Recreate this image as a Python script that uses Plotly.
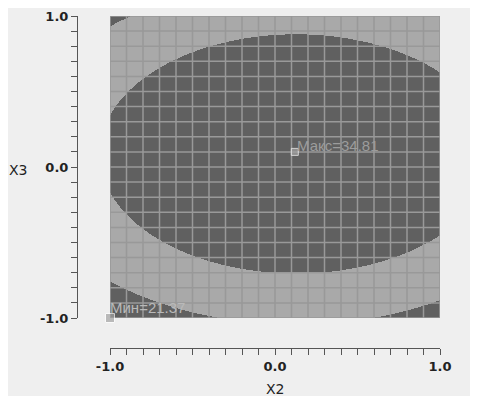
import numpy as np
import plotly.graph_objects as go

# Fitted response-surface model (coded units): Y = b0 + b2*X2 + b3*X3 + b22*X2^2 + b33*X3^2 + b23*X2*X3
coef_b0 = 34.72
coef_b2 = 0.85
coef_b3 = 1.39
coef_b22 = -3.41
coef_b33 = -7.71
coef_b23 = 0.0

contour_levels = [20, 25, 30, 35]          # band boundaries
band_colors = ["#606060", "#a9a9a9", "#606060"]

x2_range = [-1.0, 1.0]
x3_range = [-1.0, 1.0]
major_tick_vals = [-1.0, 0.0, 1.0]
major_tick_text = ["-1.0", "0.0", "1.0"]
grid_step = 0.1

extreme_labels = ["Макс=34.81", "Мин=21.37"]
extreme_x2 = [0.12, -1.0]
extreme_x3 = [0.10, -1.0]

# ---- surface grid evaluated from the model ----
gx = np.linspace(x2_range[0], x2_range[1], 331)
gy = np.linspace(x3_range[0], x3_range[1], 303)
X, Y = np.meshgrid(gx, gy)
Z = (coef_b0 + coef_b2 * X + coef_b3 * Y + coef_b22 * X**2
     + coef_b33 * Y**2 + coef_b23 * X * Y)

zmin, zmax = contour_levels[0], contour_levels[-1]
cs = []
for i, c in enumerate(band_colors):
    lo = (contour_levels[i] - zmin) / (zmax - zmin)
    hi = (contour_levels[i + 1] - zmin) / (zmax - zmin)
    cs.append([lo, c])
    cs.append([hi, c])

fig = go.Figure()
fig.add_trace(go.Heatmap(x=gx, y=gy, z=Z, zmin=zmin, zmax=zmax, colorscale=cs,
                         showscale=False, zsmooth=False, hoverinfo="skip"))

# grid lines drawn above the surface
n = int(round((x2_range[1] - x2_range[0]) / grid_step))
gvals = [x2_range[0] + grid_step * i for i in range(n + 1)]
lx, ly = [], []
for v in gvals:
    lx += [v, v, None]
    ly += [x3_range[0], x3_range[1], None]
    lx += [x2_range[0], x2_range[1], None]
    ly += [v, v, None]
fig.add_trace(go.Scatter(x=lx, y=ly, mode="lines", line=dict(color="#999999", width=1.5),
                         hoverinfo="skip", showlegend=False, cliponaxis=False))

# extreme markers on overlay axes
fig.add_trace(go.Scatter(x=extreme_x2, y=extreme_x3, xaxis="x2", yaxis="y2", mode="markers",
                         marker=dict(symbol="square", size=[7, 9], color="#a3a3a3"),
                         hoverinfo="skip", showlegend=False, cliponaxis=False))

dom_x = [33 / 363, 1.0]
dom_y = [30 / 332, 1.0]

axis_font = dict(family="DejaVu Sans", size=13, color="#222222", weight="bold")

fig.update_layout(
    width=470, height=388, autosize=False,
    margin=dict(l=69, r=38, t=8, b=48, autoexpand=False),
    paper_bgcolor="#efefef", plot_bgcolor="#a9a9a9",
    showlegend=False,
    xaxis=dict(domain=dom_x, range=x2_range, showgrid=False, zeroline=False,
               showticklabels=False, ticks="", showline=False, automargin=False),
    yaxis=dict(domain=dom_y, range=x3_range, showgrid=False, zeroline=False,
               showticklabels=False, ticks="", showline=False, automargin=False),
    xaxis2=dict(domain=dom_x, range=x2_range, overlaying="x", anchor="free", position=0,
                side="bottom", showgrid=False, zeroline=False, showline=True, automargin=False,
                linecolor="#555555", linewidth=1, ticks="outside", ticklen=6,
                tickcolor="#555555", tickvals=major_tick_vals, ticktext=major_tick_text,
                minor=dict(dtick=grid_step, tick0=-1, ticks="outside", ticklen=6,
                           tickcolor="#555555", showgrid=False),
                tickfont=axis_font),
    yaxis2=dict(domain=dom_y, range=x3_range, overlaying="y", anchor="free", position=0,
                side="left", showgrid=False, zeroline=False, showline=True, automargin=False,
                linecolor="#555555", linewidth=1, ticks="outside", ticklen=6,
                tickcolor="#555555", tickvals=major_tick_vals, ticktext=major_tick_text,
                minor=dict(dtick=grid_step, tick0=-1, ticks="outside", ticklen=6,
                           tickcolor="#555555", showgrid=False),
                tickfont=axis_font),
    annotations=[
        dict(text=extreme_labels[0], x=extreme_x2[0], y=extreme_x3[0], xref="x2", yref="y2",
             xanchor="left", yanchor="middle", xshift=0, yshift=6, showarrow=False,
             font=dict(family="Liberation Sans", size=15, color="#9c9c9c")),
        dict(text=extreme_labels[1], x=extreme_x2[1], y=extreme_x3[1], xref="x2", yref="y2",
             xanchor="left", yanchor="middle", xshift=-2, yshift=11, showarrow=False,
             font=dict(family="Liberation Sans", size=15, color="#b9b9b9")),
        dict(text="X2", x=0.5 * (dom_x[0] + dom_x[1]), y=-0.123, xref="paper", yref="paper",
             xanchor="center", yanchor="middle", showarrow=False,
             font=dict(family="DejaVu Sans", size=14, color="#222222")),
        dict(text="X3", x=-0.16, y=0.5 * (dom_y[0] + dom_y[1]) - 0.008, xref="paper", yref="paper",
             xanchor="center", yanchor="middle", showarrow=False,
             font=dict(family="DejaVu Sans", size=14, color="#222222")),
    ],
)

fig.write_html("out.html")
